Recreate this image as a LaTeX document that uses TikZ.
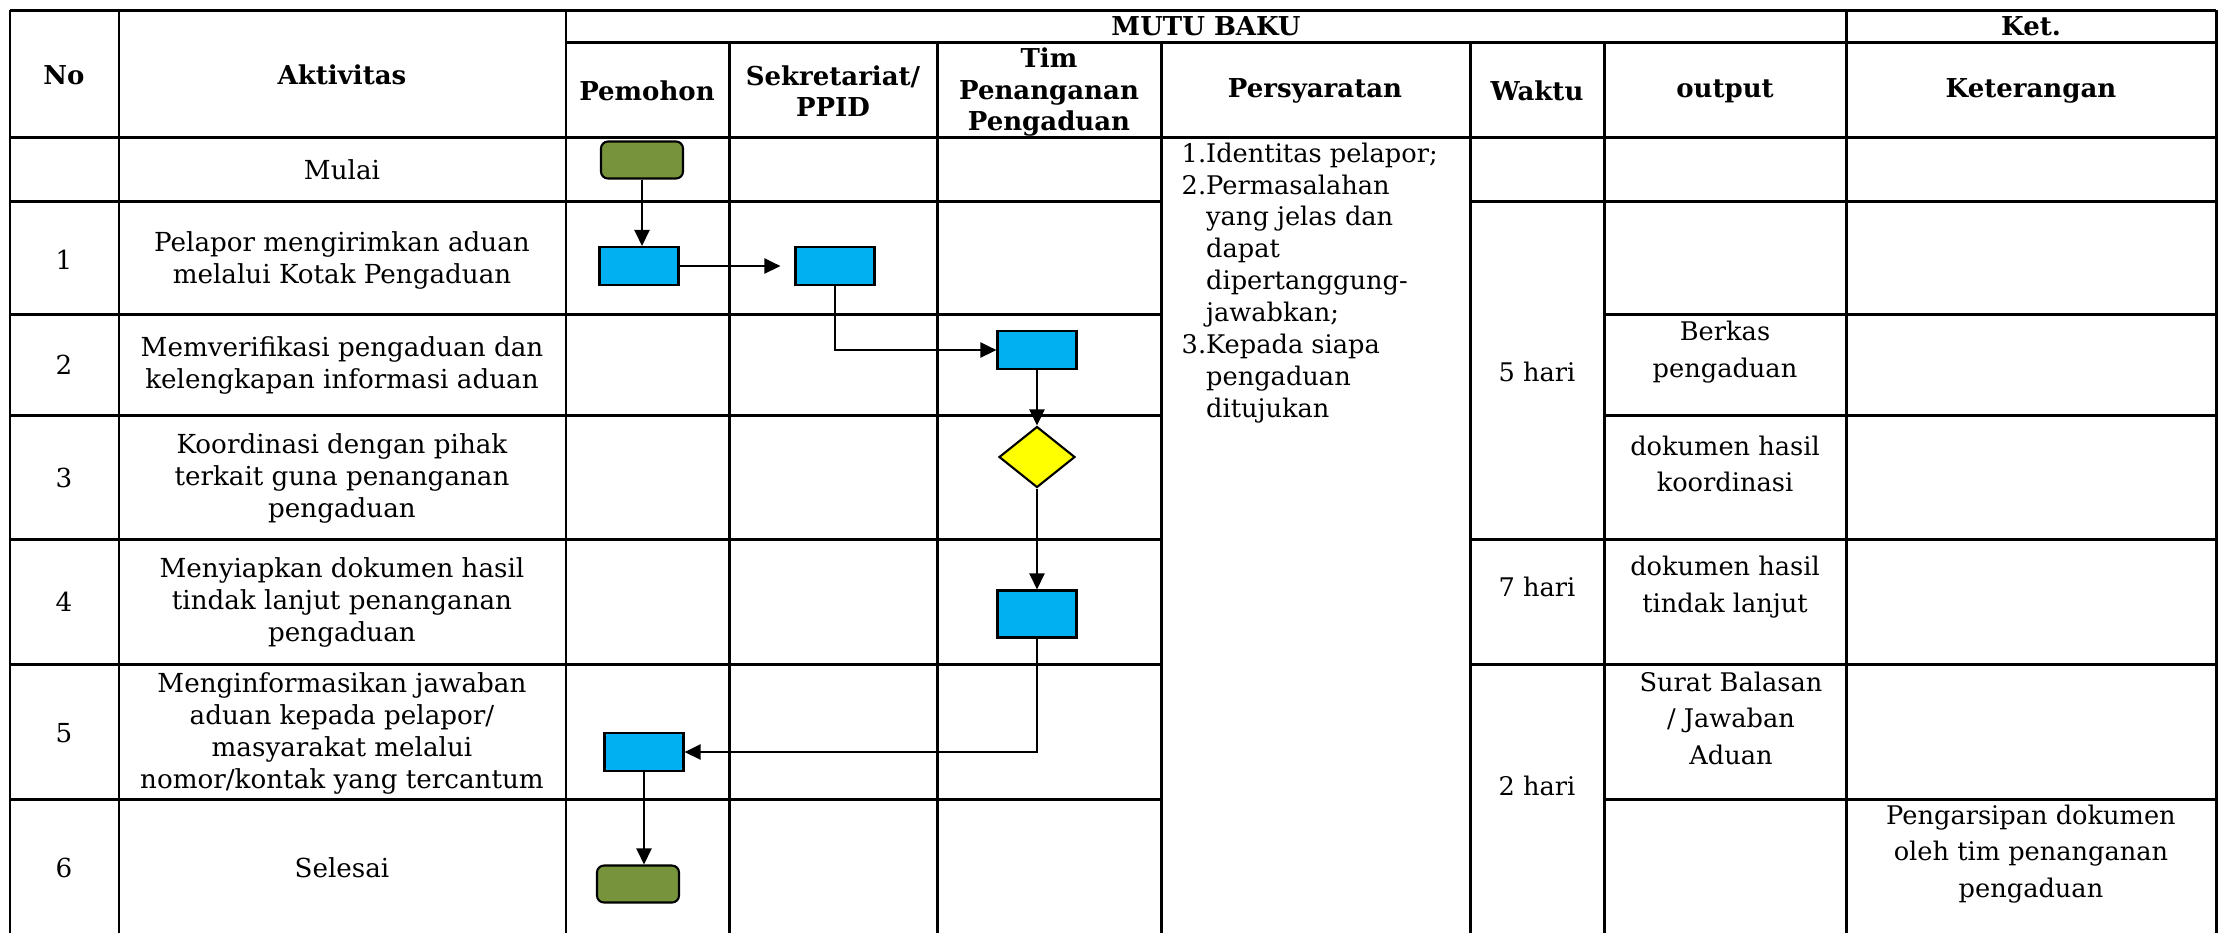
\documentclass[tikz,border=0pt]{standalone}
\usepackage{fontspec}
\setmainfont{DejaVu Serif}
\usetikzlibrary{shapes.geometric, arrows.meta}
\definecolor{procblue}{HTML}{00B0F0}
\definecolor{termgreen}{HTML}{77933C}
\definecolor{decyellow}{HTML}{FFFF00}
\newcommand{\bodyfont}{\fontsize{7.45}{9.1}\selectfont}
\newcommand{\listfont}{\fontsize{7.3}{9.1}\selectfont}
\newcommand{\colfont}{\fontsize{7.3}{10.4}\selectfont}
\newcommand{\headfont}{\fontsize{7.4}{9}\selectfont\bfseries}

\begin{document}
\begin{tikzpicture}[x=0.1mm, y=-0.1mm,
  every node/.style={inner sep=0pt, align=center},
  grid/.style={line width=0.85pt},
  proc/.style={draw, line width=0.6pt, fill=procblue, minimum width=7.9mm, minimum height=3.8mm},
  term/.style={draw, line width=0.6pt, fill=termgreen, rounded corners=0.7mm, minimum width=8.2mm, minimum height=3.7mm},
  decide/.style={diamond, draw, line width=0.6pt, fill=decyellow, minimum width=7.6mm, minimum height=6.1mm},
  flow/.style={-{Triangle[length=1.6mm, width=1.5mm]}, line width=0.65pt}]
  \useasboundingbox (0,0) rectangle (2220,933);
  % table frame
  \draw[grid] (10,10) -- (2216,10);
  \draw[grid] (566,42) -- (2216,42);
  \draw[grid] (10,137) -- (2216,137);
  \draw[grid] (10,201) -- (1161,201);
  \draw[grid] (1470,201) -- (2216,201);
  \draw[grid] (10,314) -- (1161,314);
  \draw[grid] (1604,314) -- (2216,314);
  \draw[grid] (10,415) -- (1161,415);
  \draw[grid] (1604,415) -- (2216,415);
  \draw[grid] (10,539) -- (1161,539);
  \draw[grid] (1470,539) -- (2216,539);
  \draw[grid] (10,664) -- (1161,664);
  \draw[grid] (1470,664) -- (2216,664);
  \draw[grid] (10,799) -- (1161,799);
  \draw[grid] (1604,799) -- (2216,799);
  \draw[grid] (10,10) -- (10,933);
  \draw[grid] (119,10) -- (119,933);
  \draw[grid] (566,10) -- (566,933);
  \draw[grid] (1846,10) -- (1846,933);
  \draw[grid] (2216,10) -- (2216,933);
  \draw[grid] (729,42) -- (729,933);
  \draw[grid] (937,42) -- (937,933);
  \draw[grid] (1161,42) -- (1161,933);
  \draw[grid] (1470,42) -- (1470,933);
  \draw[grid] (1604,42) -- (1604,933);
  % header
  \node[font=\headfont] (hNo) at (64,75) {No};
  \node[font=\headfont] (hAkt) at (342,75) {Aktivitas};
  \node[font=\headfont] (hMutu) at (1206,26) {MUTU BAKU};
  \node[font=\headfont] (hKet) at (2031,26) {Ket.};
  \node[font=\headfont] (hPem) at (647,91) {Pemohon};
  \node[font=\headfont] (hSek) at (833,91) {Sekretariat/\\PPID};
  \node[font=\headfont] (hTim) at (1049,92) {Tim\\Penanganan\\Pengaduan};
  \node[font=\headfont] (hPer) at (1315,91) {Persyaratan};
  \node[font=\headfont] (hWak) at (1537,91) {Waktu};
  \node[font=\headfont] (hOut) at (1725,91) {output};
  \node[font=\headfont] (hKtr) at (2031,91) {Keterangan};
  % rows
  \node[font=\bodyfont] (n1) at (64,260) {1};
  \node[font=\bodyfont] (n2) at (64,365) {2};
  \node[font=\bodyfont] (n3) at (64,478) {3};
  \node[font=\bodyfont] (n4) at (64,602) {4};
  \node[font=\bodyfont] (n5) at (64,733) {5};
  \node[font=\bodyfont] (n6) at (64,868) {6};
  \node[font=\bodyfont] (a0) at (342,170) {Mulai};
  \node[font=\bodyfont] (a1) at (342,260) {Pelapor mengirimkan aduan\\melalui Kotak Pengaduan};
  \node[font=\bodyfont] (a2) at (342,365) {Memverifikasi pengaduan dan\\kelengkapan informasi aduan};
  \node[font=\bodyfont] (a3) at (342,478) {Koordinasi dengan pihak\\terkait guna penanganan\\pengaduan};
  \node[font=\bodyfont] (a4) at (342,602) {Menyiapkan dokumen hasil\\tindak lanjut penanganan\\pengaduan};
  \node[font=\bodyfont] (a5) at (342,733) {Menginformasikan jawaban\\aduan kepada pelapor/\\masyarakat melalui\\nomor/kontak yang tercantum};
  \node[font=\bodyfont] (a6) at (342,868) {Selesai};
  \node[font=\listfont, anchor=base west] (syarat) at (1181,162) {\begin{tabular}[t]{@{}l@{}l@{}}
    1.&Identitas pelapor;\\
    2.&Permasalahan\\
    &yang jelas dan\\
    &dapat\\
    &dipertanggung-\\
    &jawabkan;\\
    3.&Kepada siapa\\
    &pengaduan\\
    &ditujukan
  \end{tabular}};
  \node[font=\colfont] (w1) at (1537,372) {5 hari};
  \node[font=\colfont] (w2) at (1537,587) {7 hari};
  \node[font=\colfont] (w3) at (1537,786) {2 hari};
  \node[font=\colfont] (o2) at (1725,352) {Berkas\\pengaduan};
  \node[font=\colfont] (o3) at (1725,464) {dokumen hasil\\koordinasi};
  \node[font=\colfont] (o4) at (1725,587) {dokumen hasil\\tindak lanjut};
  \node[font=\colfont] (o5) at (1731,718) {Surat Balasan\\/ Jawaban\\Aduan};
  \node[font=\colfont] (k6) at (2031,854) {Pengarsipan dokumen\\oleh tim penanganan\\pengaduan};
  % flow
  \node[term] (start) at (642,160) {};
  \node[proc] (p1) at (639,266) {};
  \node[proc] (s1) at (835,266) {};
  \node[proc] (t1) at (1037,350) {};
  \node[decide] (d1) at (1037,457) {};
  \node[proc, minimum height=4.7mm] (t2) at (1037,614) {};
  \node[proc] (p5) at (644,752) {};
  \node[term] (stop) at (638,884) {};
  \draw[flow] (start.south) -- (start.south |- p1.north);
  \draw[flow, shorten >=1.4mm] (p1.east) -- (s1.west);
  \draw[flow] (s1.south) |- (t1.west);
  \draw[flow] (t1.south) -- (d1.north);
  \draw[flow] (d1.south) -- (t2.north);
  \draw[flow] (t2.south) |- (p5.east);
  \draw[flow] (p5.south) -- (p5.south |- stop.north);
\end{tikzpicture}
\end{document}
